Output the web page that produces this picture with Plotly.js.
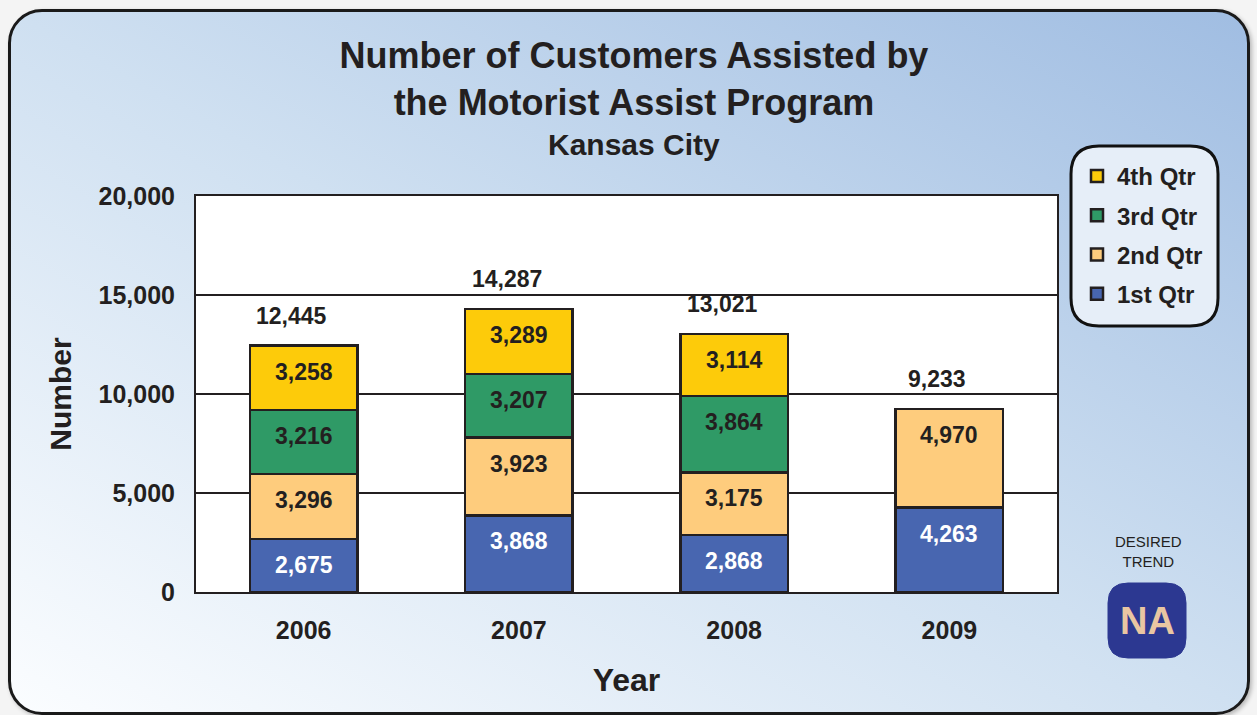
<!DOCTYPE html>
<html>
<head>
<meta charset="utf-8">
<script src="https://cdn.plot.ly/plotly-3.0.1.min.js"></script>
<style>
  html, body { margin:0; padding:0; background:#f4f4f4; width:1257px; height:715px; overflow:hidden; }
  #card { position:absolute; left:8px; top:9px; width:1242px; height:706px; box-sizing:border-box;
          border:3px solid #1a1a1a; border-radius:34px;
          background: linear-gradient(to top right, #fbfdff 0%, #cfe0f1 50%, #a0bde2 100%);
          box-shadow: 2px 2px 4px rgba(0,0,0,0.25); }
  #chart { position:absolute; left:0; top:0; width:1257px; height:715px; }
</style>
</head>
<body>
<div id="card"></div>
<div id="chart"></div>
<script>
// ---- data ----
const years = ['2006', '2007', '2008', '2009'];
const q1 = [2675, 3868, 2868, 4263];
const q2 = [3296, 3923, 3175, 4970];
const q3 = [3216, 3207, 3864, null];
const q4 = [3258, 3289, 3114, null];
const seriesNames = ['1st Qtr', '2nd Qtr', '3rd Qtr', '4th Qtr'];
const yTicks = [0, 5000, 10000, 15000, 20000];

// ---- styles ----
const colors = ['#4866b0', '#fecc7d', '#2f9a66', '#fdcb0a'];
const labelColors = ['#ffffff', '#231f20', '#231f20', '#231f20'];
const dark = '#231f20';
const FONT = 'Liberation Sans, Arial, sans-serif';

const W = 1257, H = 715;
const M = {l:196, r:200, t:196, b:123};
const pw = W - M.l - M.r, ph = H - M.t - M.b;
const px = x => (x - M.l) / pw;
const py = y => (H - M.b - y) / ph;

function roundRect(x0, y0, x1, y1, r) {
  const rx = r / pw, ry = r / ph;
  const a = px(x0), b = px(x1), top = py(y0), bot = py(y1);
  return `M${a+rx},${bot} L${b-rx},${bot} Q${b},${bot} ${b},${bot+ry} L${b},${top-ry} Q${b},${top} ${b-rx},${top} ` +
         `L${a+rx},${top} Q${a},${top} ${a},${top-ry} L${a},${bot+ry} Q${a},${bot} ${a+rx},${bot} Z`;
}

const series = [q1, q2, q3, q4];
const traces = series.map((vals, i) => ({
  type: 'bar',
  name: seriesNames[i],
  legendgroup: 'g' + i,
  legendrank: 10 - i,
  x: years,
  y: vals,
  width: 0.5,
  marker: { color: colors[i], line: { color: dark, width: 2.5 } },
  hoverinfo: 'skip'
}));

const fmt = v => v.toLocaleString('en-US');
const annotations = [];
const cum = years.map(() => 0);
series.forEach((vals, i) => {
  vals.forEach((v, j) => {
    if (v == null) return;
    cum[j] += v;
    annotations.push({
      x: j, y: cum[j], xref: 'x', yref: 'y', yshift: -26,
      text: fmt(v), showarrow: false, yanchor: 'middle',
      font: { family: FONT, size: 23, weight: 'bold', color: labelColors[i] }
    });
  });
});
years.forEach((yr, j) => {
  annotations.push({
    x: j, y: cum[j], xref: 'x', yref: 'y', yshift: 30, xshift: -12,
    text: fmt(cum[j]), showarrow: false, yanchor: 'middle',
    font: { family: FONT, size: 23, weight: 'bold', color: dark }
  });
});
annotations.push({
  xref: 'paper', yref: 'paper', x: px(634), y: py(145), text: 'Kansas City',
  showarrow: false, xanchor: 'center', yanchor: 'middle',
  font: { family: FONT, size: 30, weight: 'bold', color: dark }
});
annotations.push({
  xref: 'paper', yref: 'paper', x: px(1148), y: py(551), text: 'DESIRED<br>TREND',
  showarrow: false, xanchor: 'center', yanchor: 'middle',
  font: { family: FONT, size: 15, color: dark }
});
annotations.push({
  xref: 'paper', yref: 'paper', x: px(1147), y: py(621), text: 'NA',
  showarrow: false, xanchor: 'center', yanchor: 'middle',
  font: { family: FONT, size: 38, weight: 'bold', color: '#e9c6a2' }
});

const layout = {
  width: W, height: H,
  margin: M,
  paper_bgcolor: 'rgba(0,0,0,0)',
  plot_bgcolor: '#ffffff',
  barmode: 'stack',
  showlegend: true,
  font: { family: FONT, color: dark },
  title: {
    text: 'Number of Customers Assisted by<br>the Motorist Assist Program',
    x: 634 / W, xanchor: 'center',
    xref: 'container', yref: 'container',
    y: 1 - 68 / H, yanchor: 'top',
    font: { family: FONT, size: 36, weight: 'bold', color: dark }
  },
  xaxis: {
    type: 'category', range: [-0.5, years.length - 0.5],
    showline: true, mirror: true, linecolor: dark, linewidth: 2,
    ticks: '', ticklabelstandoff: 15,
    tickfont: { family: FONT, size: 25, weight: 'bold', color: dark },
    title: { text: 'Year', standoff: 26, font: { family: FONT, size: 32, weight: 'bold', color: dark } },
    fixedrange: true
  },
  yaxis: {
    range: [0, 20000], tickvals: yTicks, tickformat: ',d',
    showline: true, mirror: true, linecolor: dark, linewidth: 2,
    showgrid: true, gridcolor: dark, gridwidth: 2,
    zeroline: false, ticks: '', ticklabelstandoff: 14,
    tickfont: { family: FONT, size: 25, weight: 'bold', color: dark },
    title: { text: 'Number', standoff: 18, font: { family: FONT, size: 30, weight: 'bold', color: dark } },
    fixedrange: true
  },
  legend: {
    x: px(1077), y: py(154), xanchor: 'left', yanchor: 'top',
    xref: 'paper', yref: 'paper',
    bgcolor: 'rgba(0,0,0,0)', borderwidth: 0,
    traceorder: 'grouped', tracegroupgap: 5,
    itemwidth: 30,
    font: { family: FONT, size: 24, weight: 'bold', color: dark }
  },
  shapes: [
    { type: 'path', xref: 'paper', yref: 'paper', layer: 'below',
      path: roundRect(1071, 146, 1218, 326, 28),
      fillcolor: '#e6eef8', line: { color: '#111111', width: 3 } },
    { type: 'path', xref: 'paper', yref: 'paper', layer: 'below',
      path: roundRect(1108, 583, 1186, 658, 20),
      fillcolor: '#2c3891', line: { color: '#2c3891', width: 1 } }
  ],
  annotations: annotations
};

Plotly.newPlot('chart', traces, layout, { displayModeBar: false, staticPlot: true });
</script>
</body>
</html>
